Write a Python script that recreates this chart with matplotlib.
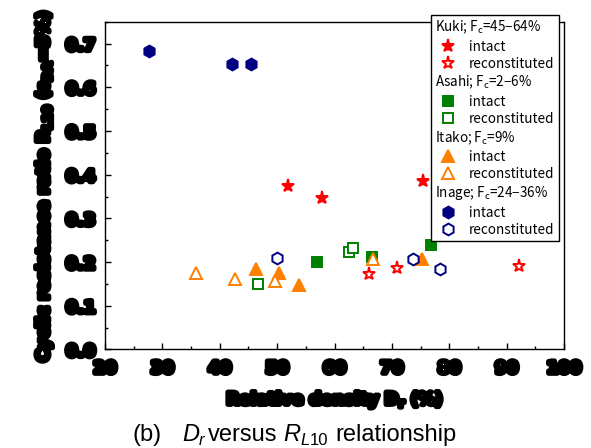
import matplotlib
matplotlib.use("Agg")
import matplotlib.pyplot as plt
import matplotlib.patheffects as pe
from matplotlib.lines import Line2D

# Relative density Dr (%) and cyclic resistance ratio RL10 for each site / sample type
kuki_intact_dr = [51.9, 57.9, 75.5]
kuki_intact_rl = [0.373, 0.347, 0.385]
kuki_recon_dr = [66.0, 70.9, 92.1]
kuki_recon_rl = [0.172, 0.187, 0.191]

asahi_intact_dr = [57.0, 66.6, 76.9]
asahi_intact_rl = [0.200, 0.212, 0.239]
asahi_recon_dr = [46.6, 62.5, 63.3]
asahi_recon_rl = [0.149, 0.222, 0.232]

itako_intact_dr = [46.4, 50.4, 53.8, 75.2]
itako_intact_rl = [0.184, 0.175, 0.147, 0.207]
itako_recon_dr = [35.9, 42.7, 49.6, 66.7]
itako_recon_rl = [0.175, 0.161, 0.156, 0.206]

inage_intact_dr = [27.7, 42.2, 45.5]
inage_intact_rl = [0.682, 0.653, 0.653]
inage_recon_dr = [50.0, 73.6, 78.4]
inage_recon_rl = [0.210, 0.206, 0.184]

site_headers = ["Kuki; F$_{\\mathregular{c}}$=45\u221264%",
                "Asahi; F$_{\\mathregular{c}}$=2\u22126%",
                "Itako; F$_{\\mathregular{c}}$=9%",
                "Inage; F$_{\\mathregular{c}}$=24\u221236%"]

x_ticks = [20, 30, 40, 50, 60, 70, 80, 90, 100]
y_ticks = [0.0, 0.1, 0.2, 0.3, 0.4, 0.5, 0.6, 0.7]

RED = "#ff0000"
GREEN = "#008000"
ORANGE = "#ff8000"
NAVY = "#000080"

W, H = 591, 448
fig = plt.figure(figsize=(W / 100, H / 100), dpi=100)
ax = fig.add_axes([0.1777, 0.2199, 0.9543 - 0.1777, 0.9516 - 0.2199])

ms = 8.5
series = [
    (kuki_intact_dr, kuki_intact_rl, "*", RED, True, 9.5),
    (kuki_recon_dr, kuki_recon_rl, "*", RED, False, 9.5),
    (asahi_intact_dr, asahi_intact_rl, "s", GREEN, True, 7.5),
    (asahi_recon_dr, asahi_recon_rl, "s", GREEN, False, 7.0),
    (itako_intact_dr, itako_intact_rl, "^", ORANGE, True, ms),
    (itako_recon_dr, itako_recon_rl, "^", ORANGE, False, ms),
    (inage_intact_dr, inage_intact_rl, "h", NAVY, True, ms),
    (inage_recon_dr, inage_recon_rl, "h", NAVY, False, ms),
]

handles = []
for xs, ys, mk, col, filled, size in series:
    face = col if filled else "white"
    ax.plot(xs, ys, linestyle="none", marker=mk, ms=size, mfc=face,
            mec=col, mew=1.4, zorder=3)
    handles.append(Line2D([], [], linestyle="none", marker=mk, ms=size,
                          mfc=face, mec=col, mew=1.4))

ax.set_xlim(20, 100)
ax.set_ylim(0.0, 0.75)
ax.set_xticks(x_ticks)
ax.set_yticks(y_ticks)
ax.set_xticks([25, 35, 45, 55, 65, 75, 85, 95], minor=True)
ax.set_yticks([0.05, 0.15, 0.25, 0.35, 0.45, 0.55, 0.65, 0.75], minor=True)
ax.set_xticklabels([str(v) for v in x_ticks])
ax.set_yticklabels([f"{v:.1f}" for v in y_ticks])
ax.tick_params(which="major", direction="in", length=4.5, width=1,
               top=False, right=False, pad=7)
ax.tick_params(which="minor", direction="in", length=2.5, width=1,
               top=False, right=False)
for s in ax.spines.values():
    s.set_linewidth(1.0)

heavy = [pe.withStroke(linewidth=3.8, foreground="black")]
for lab in ax.get_xticklabels() + ax.get_yticklabels():
    lab.set_fontfamily("DejaVu Sans")
    lab.set_fontweight("bold")
    lab.set_fontsize(12)
    lab.set_path_effects(heavy)

ax.set_xlabel("Relative density D$_\\mathregular{r}$ (%)", fontsize=12,
              fontweight="bold", family="DejaVu Sans", labelpad=8,
              path_effects=heavy)
ax.set_ylabel("Cyclic resistance ratio R$_\\mathregular{L10}$ "
              "(\u03b5$_\\mathregular{DA}$=5%)", fontsize=12.3,
              fontweight="bold", family="DejaVu Sans", labelpad=8,
              path_effects=heavy)

# legend: site header rows followed by intact / reconstituted entries
blank = Line2D([], [], linestyle="none", marker=None)
leg_handles, leg_labels, header_rows = [], [], []
for i, head in enumerate(site_headers):
    header_rows.append(len(leg_handles))
    leg_handles.append(blank)
    leg_labels.append(head)
    leg_handles.append(handles[2 * i])
    leg_labels.append("intact")
    leg_handles.append(handles[2 * i + 1])
    leg_labels.append("reconstituted")

leg = ax.legend(leg_handles, leg_labels, loc="upper left",
                bbox_to_anchor=(430.7 / W, 1 - 15 / H),
                bbox_transform=fig.transFigure, borderaxespad=0,
                prop={"family": ["Noto Sans CJK JP", "DejaVu Sans"], "size": 9.7},
                frameon=True, fancybox=False, edgecolor="black",
                framealpha=1, numpoints=1, handlelength=2.0,
                handletextpad=0.55, labelspacing=0.24, borderpad=0.3)
leg.get_frame().set_linewidth(1.0)
leg.set_zorder(5)
rows = leg._legend_handle_box.get_children()[0].get_children()
for idx in header_rows:
    row = rows[idx]
    row.get_children()[0].width = 0
    row.sep = 0

# caption below the axes: pieces laid out left to right with measured widths
renderer = fig.canvas.get_renderer()
cap_size = 17
sub_size = 12
px_per_pt = fig.dpi / 72.0
base = 1 - 441 / H
sub = 1 - 444.5 / H
pieces = [
    # text, size, italic, subscript, gap after (in em of the caption font)
    ("(b)", cap_size, False, False, 0.85),
    ("D", cap_size, True, False, 0.0),
    ("r", sub_size, True, True, 0.12),
    ("versus", cap_size, False, False, 0.28),
    ("R", cap_size, True, False, 0.0),
    ("L", sub_size, True, True, 0.0),
    ("10", sub_size, False, True, 0.28),
    ("relationship", cap_size, False, False, 0.0),
]
x = 133.0
for txt, size, italic, is_sub, gap in pieces:
    t = fig.text(x / W, sub if is_sub else base, txt, fontsize=size,
                 family="Liberation Sans", style="italic" if italic else "normal",
                 va="baseline", ha="left")
    bb = t.get_window_extent(renderer)
    x = bb.x1 + gap * cap_size * px_per_pt

fig.savefig("out.png", dpi=100)
